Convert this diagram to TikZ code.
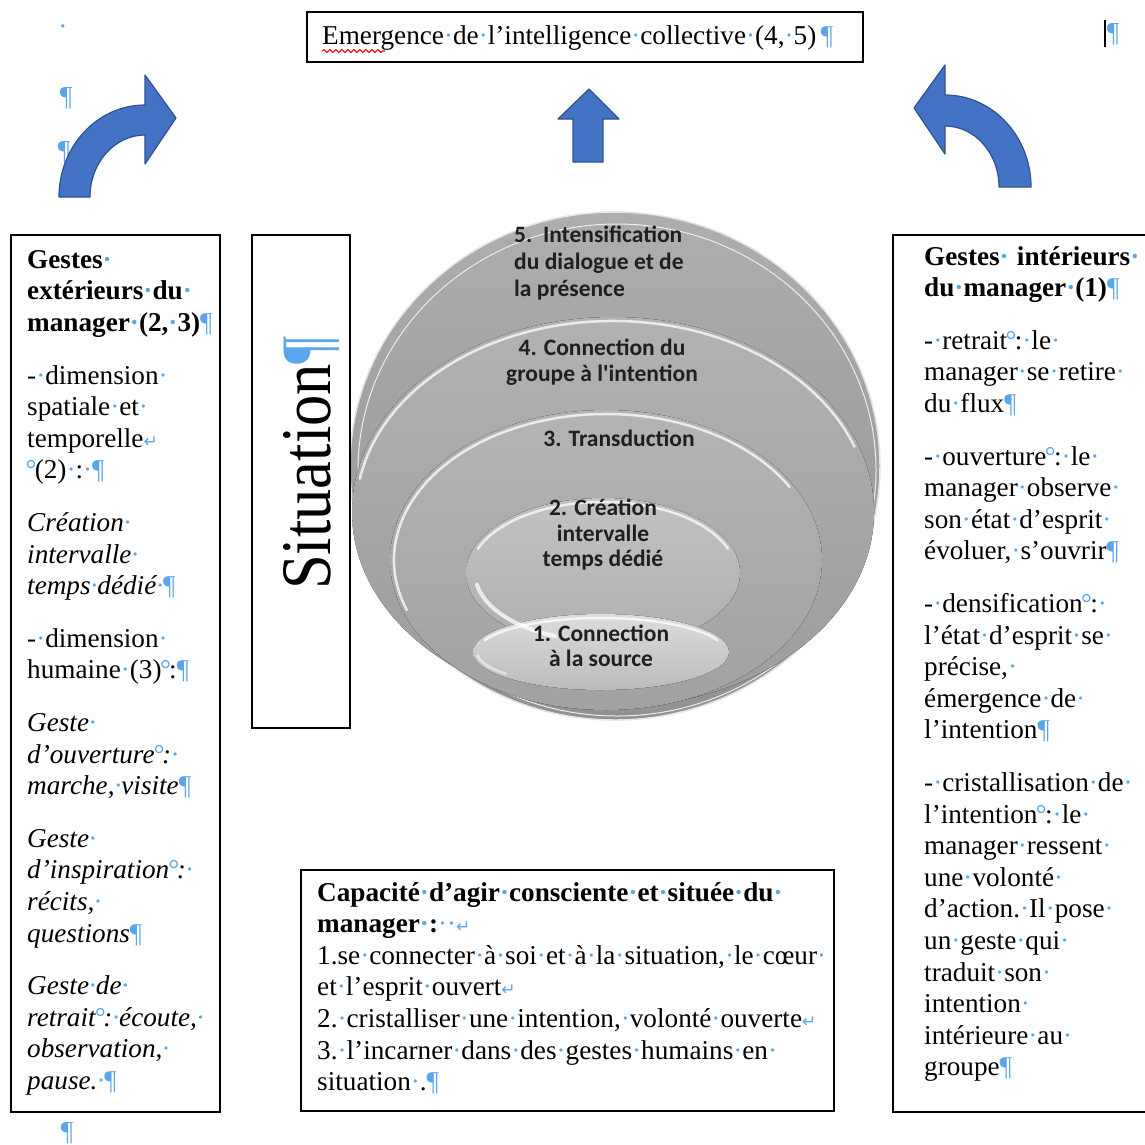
\documentclass[tikz,border=0pt]{standalone}
\usepackage{fontspec}
\usepackage{graphicx}
\setmainfont{Liberation Serif}
\newfontfamily\calfont{Carlito}
\newfontfamily\markfont{DejaVu Sans}
\usetikzlibrary{decorations.pathmorphing}

\definecolor{mk}{RGB}{90,165,235}
\definecolor{arrowblue}{RGB}{68,114,196}
\definecolor{arrowedge}{RGB}{47,82,143}
\definecolor{layA}{RGB}{174,174,174}
\definecolor{layB}{RGB}{145,145,145}
\definecolor{layC}{RGB}{180,180,180}
\definecolor{layD}{RGB}{194,194,194}
\definecolor{layE}{RGB}{220,220,220}

% formatting marks as the page shows them
\newcommand\sdot{\textcolor{mk}{·}}
\newcommand\nbmk{\makebox[0.28em]{\textcolor{mk}{°}}}
\newcommand\pilc{\textcolor{mk}{¶}}
\newcommand\lbmk{\textcolor{mk}{\markfont\fontsize{17}{17}\selectfont ↵}}

\begin{document}
\begin{tikzpicture}[
	x = 1pt, y = -1pt,
	every node/.style = {inner sep = 0pt},
	frame/.style = {draw = black, line width = 2.6pt},
	blockarrow/.style = {fill = arrowblue, draw = arrowedge, line width = 1.2pt, line join = round},
	boxtext/.style = {align = left, anchor = north west, font = \fontsize{27.2}{31.6}\selectfont},
	bowltext/.style = {align = center, text = black!88, font = \calfont\bfseries\fontsize{23.5}{25.5}\selectfont},
	gloss/.style = {white, line width = 2.5pt, opacity = 0.75, line cap = round}]
	\def\gap{21pt}

	\clip (0,0) rectangle (1145,1144);
	\fill[white] (0,0) rectangle (1145,1144);

	% stray marks of the page
	\node (mkdot) at (63,30) {\fontsize{27.5}{30}\selectfont\sdot};
	\node (mkpara) at (66,98) {\fontsize{27.5}{30}\selectfont\pilc};
	\node (mkparb) at (64,152) {\fontsize{27.5}{30}\selectfont\pilc};
	\node[anchor = north] (mkparc) at (67,1122) {\fontsize{27.5}{30}\selectfont\pilc};
	\draw[line width = 2.5pt] (1105,20) -- (1105,47);
	\node (mkpard) at (1113,34) {\fontsize{27.5}{30}\selectfont\pilc};

	% title box
	\draw[frame] (307,12) rectangle (863,62);
	\node[anchor = base west, font = \fontsize{27.2}{31.6}\selectfont] (title) at (322,44)
		{Emergence\sdot de\sdot l’intelligence\sdot collective\sdot(4,\sdot5)\,\pilc};
	\draw[red, line width = 1.1pt, decorate, decoration = {snake, amplitude = 1.5pt, segment length = 6pt}]
		([yshift = -7pt]title.base west) -- ++(63,0);

	% block arrows
	\draw[blockarrow] (59,197) arc[start angle = 180, end angle = 270, x radius = 86, y radius = 92]
		-- (145,75) -- (176,118) -- (145,164) -- (145,135)
		arc[start angle = 270, end angle = 180, x radius = 55, y radius = 62] -- cycle;
	\draw[blockarrow] (1031,187) arc[start angle = 0, end angle = -90, x radius = 86, y radius = 92]
		-- (945,65) -- (914,108) -- (945,154) -- (945,126)
		arc[start angle = -90, end angle = 0, x radius = 54, y radius = 61] -- cycle;
	\draw[blockarrow] (589,89) -- (619,119) -- (603,119) -- (603,162) -- (573,162) -- (573,119) -- (558,119) -- cycle;

	% bowl
	\fill[top color = layA, bottom color = layB] (615,466) ellipse [x radius = 265, y radius = 254];
	\draw[white!80!gray, line width = 1.5pt] (615,466) ellipse [x radius = 265, y radius = 254];
	\draw[white!85!gray, line width = 1pt] (617,470) ellipse [x radius = 259, y radius = 246];
	\fill[top color = layA!95!white, bottom color = layB!90!white] (613,512) ellipse [x radius = 261, y radius = 195];
	\fill[top color = layC, bottom color = layB!85!white] (606,560) ellipse [x radius = 216, y radius = 150];
	\fill[top color = layD, bottom color = layC!90!gray] (603,573) ellipse [x radius = 137, y radius = 75];
	\fill[top color = layE, bottom color = layD!90!gray] (601,652) ellipse [x radius = 128, y radius = 38];
	\draw[gloss] ([shift = {(190:257 and 191)}]613,512) arc[start angle = 190, end angle = 340, x radius = 257, y radius = 191];
	\draw[gloss] ([shift = {(160:212 and 146)}]606,560) arc[start angle = 160, end angle = 330, x radius = 212, y radius = 146];
	\draw[gloss] ([shift = {(200:133 and 71)}]603,573) arc[start angle = 200, end angle = 340, x radius = 133, y radius = 71];
	\draw[gloss, line width = 4pt] ([shift = {(112:128 and 68)}]603,573) arc[start angle = 112, end angle = 170, x radius = 128, y radius = 68];
	\draw[gloss] ([shift = {(200:124 and 34)}]601,652) arc[start angle = 200, end angle = 340, x radius = 124, y radius = 34];
	\draw[gloss, opacity = 0.5] ([shift = {(140:124 and 34)}]601,652) arc[start angle = 140, end angle = 175, x radius = 124, y radius = 34];

	\node[bowltext, align = left, anchor = north west, font = \calfont\bfseries\fontsize{23.5}{27}\selectfont] (lvl5) at (514,226)
		{5.\ \ Intensification\\du dialogue et de\\la présence};
	\node[bowltext] (lvl4) at (602,362) {4. Connection du\\groupe à l'intention};
	\node[bowltext] (lvl3) at (619,438) {3. Transduction};
	\node[bowltext] (lvl2) at (603,535) {2. Création\\intervalle\\temps dédié};
	\node[bowltext] (lvl1) at (601,646) {1. Connection\\à la source};

	% situation box
	\draw[frame] (252,235) rectangle (350,728);
	\node[rotate = 90, anchor = base west] (situ) at (330,590)
		{\scalebox{0.88}[1]{\fontsize{71}{71}\selectfont Situation\pilc}};

	% outer gestures
	\draw[frame] (11,235) rectangle (220,1112);
	\node[boxtext] (outer) at (27,250) {%
		\textbf{Gestes\sdot}\\
		\textbf{extérieurs\sdot du\sdot}\\
		\textbf{manager\sdot(2,\sdot3)}\pilc\\[\gap]
		-\sdot dimension\sdot\\
		spatiale\sdot et\sdot\\
		temporelle\lbmk\\
		\nbmk(2)\sdot:\sdot\pilc\\[\gap]
		\textit{Création\sdot}\\
		\textit{intervalle\sdot}\\
		\textit{temps\sdot dédié\sdot}\pilc\\[\gap]
		-\sdot dimension\sdot\\
		humaine\sdot(3)\nbmk:\pilc\\[\gap]
		\textit{Geste\sdot}\\
		\textit{d’ouverture\nbmk:\sdot}\\
		\textit{marche,\sdot visite}\pilc\\[\gap]
		\textit{Geste\sdot}\\
		\textit{d’inspiration\nbmk:\sdot}\\
		\textit{récits,\sdot}\\
		\textit{questions}\pilc\\[\gap]
		\textit{Geste\sdot de\sdot}\\
		\textit{retrait\nbmk:\sdot écoute,\sdot}\\
		\textit{observation,\sdot}\\
		\textit{pause.\sdot}\pilc};

	% inner gestures
	\draw[frame] (893,235) rectangle (1160,1112);
	\node[boxtext] (inner) at (924,246) {%
		\textbf{Gestes\sdot\hspace{0.3em}intérieurs\sdot}\\
		\textbf{du\sdot manager\sdot(1)}\pilc\\[\gap]
		-\sdot retrait\nbmk:\sdot le\sdot\\
		manager\sdot se\sdot retire\sdot\\
		du\sdot flux\pilc\\[\gap]
		-\sdot ouverture\nbmk:\sdot le\sdot\\
		manager\sdot observe\sdot\\
		son\sdot état\sdot d’esprit\sdot\\
		évoluer,\sdot s’ouvrir\pilc\\[\gap]
		-\sdot densification\nbmk:\sdot\\
		l’état\sdot d’esprit\sdot se\sdot\\
		précise,\sdot\\
		émergence\sdot de\sdot\\
		l’intention\pilc\\[\gap]
		-\sdot cristallisation\sdot de\sdot\\
		l’intention\nbmk:\sdot le\sdot\\
		manager\sdot ressent\sdot\\
		une\sdot volonté\sdot\\
		d’action.\sdot Il\sdot pose\sdot\\
		un\sdot geste\sdot qui\sdot\\
		traduit\sdot son\sdot\\
		intention\sdot\\
		intérieure\sdot au\sdot\\
		groupe\pilc};

	% capacity box
	\draw[frame] (301,870) rectangle (834,1111);
	\node[boxtext] (capa) at (317,882) {%
		\textbf{Capacité\sdot d’agir\sdot consciente\sdot et\sdot située\sdot du\sdot}\\
		\textbf{manager\sdot:}\sdot\sdot\lbmk\\
		1.se\sdot connecter\sdot à\sdot soi\sdot et\sdot à\sdot la\sdot situation,\sdot le\sdot cœur\sdot\\
		et\sdot l’esprit\sdot ouvert\lbmk\\
		2.\sdot cristalliser\sdot une\sdot intention,\sdot volonté\sdot ouverte\lbmk\\
		3.\sdot l’incarner\sdot dans\sdot des\sdot gestes\sdot humains\sdot en\sdot\\
		situation\sdot.\pilc};

\end{tikzpicture}
\end{document}
